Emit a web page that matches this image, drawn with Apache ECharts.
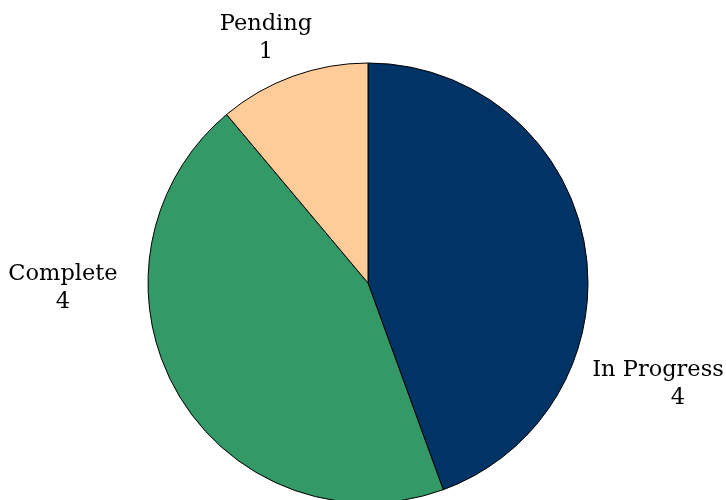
<!DOCTYPE html>
<html>
<head>
<meta charset="utf-8">
<script src="https://cdn.jsdelivr.net/npm/echarts@6/dist/echarts.min.js"></script>
<style>html,body{margin:0;padding:0;background:#fff}#c{width:726px;height:500px}</style>
</head>
<body>
<div id="c"></div>
<script>
const categories = ['In Progress', 'Complete', 'Pending'];
const values = [4, 4, 1];
const colors = ['#003366', '#339966', '#FFCC99'];
const labelSpots = [[658, 384], [63, 288], [266, 38]];

const chart = echarts.init(document.getElementById('c'), null, {renderer: 'canvas'});
const txt = {fontFamily: 'DejaVu Serif', fontSize: 22.5, color: '#000', lineHeight: 28, align: 'center'};
chart.setOption({
  animation: false,
  backgroundColor: '#ffffff',
  series: [{
    type: 'pie',
    center: [368, 283],
    radius: 220,
    startAngle: 90,
    clockwise: true,
    data: categories.map((n, i) => ({
      name: n, value: values[i],
      itemStyle: {color: colors[i]}
    })),
    itemStyle: {borderColor: '#000', borderWidth: 1},
    emphasis: {disabled: true},
    labelLine: {show: false},
    label: {
      show: true,
      position: 'outside',
      overflow: 'none',
      width: 200,
      formatter: p => p.dataIndex === 0 ? '{a|' + p.name + '}\n{b|' + p.value + '}' : '{a|' + p.name + '}\n{c|' + p.value + '}',
      rich: {
        a: txt,
        b: Object.assign({}, txt, {padding: [0, 0, 0, 40]}),
        c: txt
      }
    },
    labelLayout: p => ({
      x: labelSpots[p.dataIndex][0],
      y: labelSpots[p.dataIndex][1],
      align: 'center',
      verticalAlign: 'middle'
    })
  }]
});
</script>
</body>
</html>
